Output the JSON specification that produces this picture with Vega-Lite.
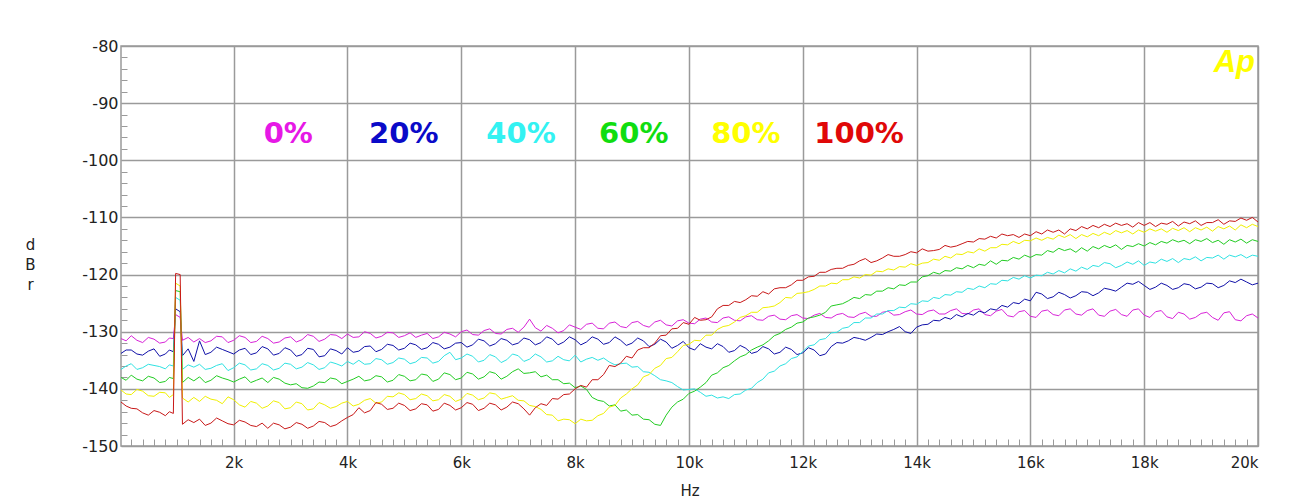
{
"$schema":"https://vega.github.io/schema/vega-lite/v6.json",
"width":1137,"height":400,
"autosize":{"type":"none"},
"padding":{"left":121,"top":46,"right":39,"bottom":57},
"background":"white",
"config":{"view":{"stroke":"#9a9a9a","strokeWidth":1.5}},
"layer":[
{"data":{"values":[
{"f":20,"p0":-131.2,"p20":-133.8,"p40":-136.6,"p60":-138.0,"p80":-140.2,"p100":-142.3},
{"f":110,"p0":-131.6,"p20":-133.2,"p40":-136.0,"p60":-138.5,"p80":-140.9,"p100":-143.0},
{"f":200,"p0":-130.7,"p20":-133.2,"p40":-135.6,"p60":-137.6,"p80":-141.0,"p100":-143.4},
{"f":300,"p0":-131.5,"p20":-133.9,"p40":-136.6,"p60":-138.3,"p80":-140.1,"p100":-143.5},
{"f":400,"p0":-131.9,"p20":-134.1,"p40":-136.3,"p60":-138.6,"p80":-140.4,"p100":-144.2},
{"f":500,"p0":-131.0,"p20":-133.4,"p40":-135.7,"p60":-137.8,"p80":-141.2,"p100":-144.6},
{"f":600,"p0":-131.3,"p20":-133.0,"p40":-135.9,"p60":-138.1,"p80":-141.3,"p100":-143.8},
{"f":700,"p0":-132.0,"p20":-134.3,"p40":-136.1,"p60":-138.9,"p80":-140.6,"p100":-144.1},
{"f":800,"p0":-131.8,"p20":-133.9,"p40":-136.5,"p60":-138.7,"p80":-140.7,"p100":-144.7},
{"f":870,"p0":-131.1,"p20":-133.2,"p40":-135.8,"p60":-138.0,"p80":-141.5,"p100":-144.0},
{"f":940,"p0":-131.2,"p20":-133.5,"p40":-136.0,"p60":-138.2,"p80":-141.0,"p100":-144.3},
{"f":980,"p0":-127.0,"p20":-126.0,"p40":-124.0,"p60":-122.8,"p80":-121.5,"p100":-119.8},
{"f":1060,"p0":-127.5,"p20":-126.5,"p40":-124.5,"p60":-123.0,"p80":-122.0,"p100":-120.0},
{"f":1100,"p0":-131.5,"p20":-134.2,"p40":-136.6,"p60":-138.9,"p80":-141.6,"p100":-146.2},
{"f":1200,"p0":-131.0,"p20":-133.0,"p40":-135.8,"p60":-138.0,"p80":-142.3,"p100":-145.4},
{"f":1300,"p0":-131.8,"p20":-135.2,"p40":-136.2,"p60":-138.6,"p80":-141.5,"p100":-145.9},
{"f":1400,"p0":-131.2,"p20":-131.6,"p40":-135.7,"p60":-137.9,"p80":-142.2,"p100":-145.3},
{"f":1500,"p0":-131.9,"p20":-134.0,"p40":-136.6,"p60":-138.9,"p80":-141.3,"p100":-146.4},
{"f":1600,"p0":-131.6,"p20":-133.6,"p40":-136.4,"p60":-138.5,"p80":-141.8,"p100":-146.0},
{"f":1700,"p0":-130.8,"p20":-132.7,"p40":-135.9,"p60":-137.7,"p80":-142.0,"p100":-145.1},
{"f":1800,"p0":-130.9,"p20":-133.1,"p40":-135.6,"p60":-138.1,"p80":-142.6,"p100":-145.6},
{"f":1900,"p0":-131.9,"p20":-133.5,"p40":-136.8,"p60":-138.4,"p80":-141.4,"p100":-146.1},
{"f":2000,"p0":-131.5,"p20":-133.9,"p40":-136.3,"p60":-138.8,"p80":-141.9,"p100":-146.3},
{"f":2100,"p0":-130.7,"p20":-133.2,"p40":-135.5,"p60":-138.3,"p80":-142.8,"p100":-145.5},
{"f":2200,"p0":-131.0,"p20":-132.9,"p40":-135.8,"p60":-137.9,"p80":-143.2,"p100":-145.8},
{"f":2300,"p0":-131.9,"p20":-134.0,"p40":-136.7,"p60":-138.9,"p80":-142.2,"p100":-146.4},
{"f":2400,"p0":-131.7,"p20":-133.7,"p40":-136.5,"p60":-138.5,"p80":-142.5,"p100":-146.6},
{"f":2500,"p0":-130.8,"p20":-132.6,"p40":-135.6,"p60":-138.1,"p80":-143.4,"p100":-146.0},
{"f":2600,"p0":-131.2,"p20":-133.0,"p40":-135.9,"p60":-138.9,"p80":-143.0,"p100":-146.9},
{"f":2700,"p0":-132.0,"p20":-134.1,"p40":-136.7,"p60":-138.0,"p80":-142.1,"p100":-146.0},
{"f":2800,"p0":-131.8,"p20":-133.8,"p40":-136.4,"p60":-138.3,"p80":-142.4,"p100":-146.3},
{"f":2900,"p0":-131.1,"p20":-132.8,"p40":-135.5,"p60":-139.0,"p80":-143.5,"p100":-147.0},
{"f":3000,"p0":-130.9,"p20":-133.2,"p40":-135.7,"p60":-139.3,"p80":-143.3,"p100":-146.7},
{"f":3100,"p0":-131.8,"p20":-134.3,"p40":-136.5,"p60":-139.1,"p80":-142.3,"p100":-145.9},
{"f":3200,"p0":-131.4,"p20":-134.0,"p40":-136.2,"p60":-139.8,"p80":-142.6,"p100":-146.2},
{"f":3300,"p0":-130.5,"p20":-132.9,"p40":-135.4,"p60":-139.9,"p80":-143.7,"p100":-146.9},
{"f":3400,"p0":-130.8,"p20":-133.1,"p40":-135.8,"p60":-139.5,"p80":-143.5,"p100":-146.5},
{"f":3500,"p0":-131.7,"p20":-134.4,"p40":-136.6,"p60":-138.8,"p80":-142.4,"p100":-145.7},
{"f":3600,"p0":-131.3,"p20":-134.2,"p40":-136.3,"p60":-138.9,"p80":-142.8,"p100":-145.9},
{"f":3700,"p0":-130.5,"p20":-133.0,"p40":-135.3,"p60":-138.1,"p80":-143.4,"p100":-146.6},
{"f":3800,"p0":-130.6,"p20":-133.3,"p40":-135.6,"p60":-138.3,"p80":-143.1,"p100":-146.3},
{"f":3900,"p0":-131.2,"p20":-133.9,"p40":-136.0,"p60":-139.1,"p80":-142.5,"p100":-145.6},
{"f":4000,"p0":-130.4,"p20":-132.8,"p40":-135.2,"p60":-138.7,"p80":-142.2,"p100":-145.0},
{"f":4100,"p0":-131.0,"p20":-133.6,"p40":-135.7,"p60":-138.3,"p80":-143.0,"p100":-144.5},
{"f":4200,"p0":-130.9,"p20":-133.4,"p40":-135.0,"p60":-137.8,"p80":-142.7,"p100":-143.3},
{"f":4300,"p0":-130.0,"p20":-132.6,"p40":-135.7,"p60":-138.6,"p80":-142.0,"p100":-144.2},
{"f":4400,"p0":-130.3,"p20":-132.5,"p40":-135.6,"p60":-138.4,"p80":-141.7,"p100":-143.8},
{"f":4500,"p0":-131.1,"p20":-133.5,"p40":-134.7,"p60":-137.7,"p80":-142.5,"p100":-142.4},
{"f":4600,"p0":-130.8,"p20":-133.1,"p40":-134.9,"p60":-137.9,"p80":-142.3,"p100":-142.7},
{"f":4700,"p0":-130.1,"p20":-132.2,"p40":-135.7,"p60":-138.8,"p80":-141.3,"p100":-143.6},
{"f":4800,"p0":-130.2,"p20":-132.4,"p40":-135.4,"p60":-138.5,"p80":-141.4,"p100":-143.4},
{"f":4900,"p0":-131.0,"p20":-133.2,"p40":-134.6,"p60":-137.5,"p80":-140.7,"p100":-142.5},
{"f":5000,"p0":-130.7,"p20":-132.9,"p40":-134.8,"p60":-137.8,"p80":-141.0,"p100":-142.9},
{"f":5100,"p0":-130.2,"p20":-132.0,"p40":-135.6,"p60":-138.6,"p80":-141.9,"p100":-143.8},
{"f":5200,"p0":-131.0,"p20":-132.3,"p40":-135.3,"p60":-138.4,"p80":-141.7,"p100":-143.5},
{"f":5300,"p0":-130.6,"p20":-133.1,"p40":-134.5,"p60":-137.4,"p80":-140.9,"p100":-142.6},
{"f":5400,"p0":-130.3,"p20":-132.8,"p40":-134.6,"p60":-137.6,"p80":-141.2,"p100":-142.8},
{"f":5500,"p0":-131.2,"p20":-131.9,"p40":-135.5,"p60":-138.7,"p80":-142.1,"p100":-143.9},
{"f":5600,"p0":-130.9,"p20":-132.2,"p40":-135.2,"p60":-138.3,"p80":-141.9,"p100":-143.6},
{"f":5700,"p0":-130.1,"p20":-133.0,"p40":-134.2,"p60":-137.2,"p80":-141.0,"p100":-142.5},
{"f":5800,"p0":-130.4,"p20":-132.7,"p40":-133.6,"p60":-137.5,"p80":-141.3,"p100":-142.9},
{"f":5900,"p0":-130.9,"p20":-132.0,"p40":-134.9,"p60":-138.4,"p80":-142.2,"p100":-143.7},
{"f":6000,"p0":-130.0,"p20":-131.9,"p40":-134.6,"p60":-138.1,"p80":-141.8,"p100":-143.3},
{"f":6100,"p0":-129.7,"p20":-132.7,"p40":-133.9,"p60":-137.1,"p80":-140.8,"p100":-142.4},
{"f":6200,"p0":-130.5,"p20":-132.3,"p40":-134.3,"p60":-137.4,"p80":-141.1,"p100":-142.7},
{"f":6300,"p0":-130.6,"p20":-131.3,"p40":-135.3,"p60":-138.3,"p80":-141.9,"p100":-143.8},
{"f":6400,"p0":-129.8,"p20":-131.6,"p40":-135.0,"p60":-137.9,"p80":-141.6,"p100":-143.4},
{"f":6500,"p0":-129.5,"p20":-132.5,"p40":-134.0,"p60":-137.0,"p80":-140.7,"p100":-142.5},
{"f":6600,"p0":-130.3,"p20":-132.1,"p40":-134.4,"p60":-137.3,"p80":-140.9,"p100":-142.8},
{"f":6700,"p0":-130.4,"p20":-131.2,"p40":-135.4,"p60":-138.3,"p80":-141.8,"p100":-143.7},
{"f":6800,"p0":-129.6,"p20":-131.5,"p40":-134.9,"p60":-137.8,"p80":-141.5,"p100":-143.2},
{"f":6900,"p0":-129.4,"p20":-132.3,"p40":-133.9,"p60":-137.0,"p80":-141.2,"p100":-142.3},
{"f":7000,"p0":-130.1,"p20":-132.0,"p40":-134.2,"p60":-136.5,"p80":-142.0,"p100":-142.6},
{"f":7100,"p0":-129.2,"p20":-131.1,"p40":-135.2,"p60":-137.3,"p80":-142.1,"p100":-143.5},
{"f":7200,"p0":-127.8,"p20":-131.4,"p40":-134.8,"p60":-137.2,"p80":-142.9,"p100":-144.6},
{"f":7300,"p0":-129.3,"p20":-132.3,"p40":-133.9,"p60":-137.0,"p80":-143.1,"p100":-143.3},
{"f":7400,"p0":-129.9,"p20":-131.9,"p40":-134.4,"p60":-137.9,"p80":-143.6,"p100":-142.6},
{"f":7500,"p0":-128.9,"p20":-130.9,"p40":-135.3,"p60":-137.6,"p80":-144.5,"p100":-142.9},
{"f":7600,"p0":-129.4,"p20":-131.3,"p40":-135.1,"p60":-138.4,"p80":-144.6,"p100":-141.7},
{"f":7700,"p0":-130.2,"p20":-132.3,"p40":-134.3,"p60":-138.4,"p80":-145.6,"p100":-141.8},
{"f":7800,"p0":-129.8,"p20":-131.8,"p40":-134.9,"p60":-139.1,"p80":-145.3,"p100":-141.0},
{"f":7900,"p0":-128.8,"p20":-130.9,"p40":-135.1,"p60":-139.0,"p80":-145.4,"p100":-140.9},
{"f":8000,"p0":-129.2,"p20":-131.4,"p40":-134.1,"p60":-139.8,"p80":-146.1,"p100":-140.0},
{"f":8100,"p0":-129.6,"p20":-132.3,"p40":-135.3,"p60":-139.5,"p80":-145.3,"p100":-139.4},
{"f":8200,"p0":-128.7,"p20":-131.8,"p40":-134.8,"p60":-140.1,"p80":-145.6,"p100":-139.7},
{"f":8300,"p0":-128.5,"p20":-130.9,"p40":-134.5,"p60":-141.5,"p80":-145.5,"p100":-138.4},
{"f":8400,"p0":-129.4,"p20":-131.3,"p40":-135.0,"p60":-142.0,"p80":-144.7,"p100":-138.4},
{"f":8500,"p0":-129.5,"p20":-132.2,"p40":-134.6,"p60":-142.2,"p80":-144.3,"p100":-137.5},
{"f":8600,"p0":-128.5,"p20":-131.9,"p40":-135.3,"p60":-143.0,"p80":-143.2,"p100":-135.9},
{"f":8700,"p0":-128.3,"p20":-130.9,"p40":-135.8,"p60":-142.8,"p80":-142.9,"p100":-136.1},
{"f":8800,"p0":-129.1,"p20":-131.5,"p40":-135.6,"p60":-143.9,"p80":-141.6,"p100":-135.5},
{"f":8900,"p0":-129.3,"p20":-132.4,"p40":-135.5,"p60":-143.7,"p80":-140.9,"p100":-134.3},
{"f":9000,"p0":-128.4,"p20":-132.0,"p40":-136.2,"p60":-144.6,"p80":-140.0,"p100":-134.6},
{"f":9100,"p0":-128.2,"p20":-131.1,"p40":-136.1,"p60":-144.5,"p80":-139.3,"p100":-133.2},
{"f":9200,"p0":-128.9,"p20":-131.6,"p40":-137.0,"p60":-145.3,"p80":-137.9,"p100":-132.8},
{"f":9300,"p0":-129.2,"p20":-132.6,"p40":-137.1,"p60":-145.4,"p80":-137.5,"p100":-132.8},
{"f":9400,"p0":-128.3,"p20":-132.2,"p40":-137.7,"p60":-146.2,"p80":-136.4,"p100":-132.0},
{"f":9500,"p0":-128.0,"p20":-131.3,"p40":-138.4,"p60":-146.4,"p80":-135.9,"p100":-130.7},
{"f":9600,"p0":-128.8,"p20":-131.8,"p40":-138.6,"p60":-144.6,"p80":-134.7,"p100":-130.6},
{"f":9700,"p0":-129.0,"p20":-132.9,"p40":-138.9,"p60":-143.2,"p80":-134.5,"p100":-129.5},
{"f":9800,"p0":-128.1,"p20":-132.4,"p40":-139.6,"p60":-142.3,"p80":-133.5,"p100":-129.4},
{"f":9900,"p0":-127.9,"p20":-131.7,"p40":-140.2,"p60":-141.8,"p80":-132.4,"p100":-128.4},
{"f":10000,"p0":-128.5,"p20":-132.8,"p40":-140.1,"p60":-140.8,"p80":-132.2,"p100":-128.7},
{"f":10100,"p0":-128.6,"p20":-133.2,"p40":-140.0,"p60":-140.4,"p80":-131.5,"p100":-127.5},
{"f":10200,"p0":-127.8,"p20":-132.1,"p40":-140.6,"p60":-139.7,"p80":-131.6,"p100":-128.0},
{"f":10300,"p0":-127.6,"p20":-132.7,"p40":-141.3,"p60":-138.9,"p80":-130.6,"p100":-127.9},
{"f":10400,"p0":-128.3,"p20":-133.0,"p40":-141.1,"p60":-137.6,"p80":-130.6,"p100":-127.4},
{"f":10500,"p0":-128.4,"p20":-132.1,"p40":-141.6,"p60":-137.2,"p80":-129.6,"p100":-126.0},
{"f":10600,"p0":-127.6,"p20":-132.6,"p40":-141.4,"p60":-136.3,"p80":-129.1,"p100":-125.4},
{"f":10700,"p0":-127.4,"p20":-133.6,"p40":-141.7,"p60":-135.9,"p80":-128.9,"p100":-125.4},
{"f":10800,"p0":-128.0,"p20":-133.3,"p40":-141.0,"p60":-135.1,"p80":-128.3,"p100":-124.7},
{"f":10900,"p0":-128.1,"p20":-132.4,"p40":-140.9,"p60":-134.4,"p80":-127.5,"p100":-124.9},
{"f":11000,"p0":-127.4,"p20":-132.9,"p40":-140.2,"p60":-134.0,"p80":-127.2,"p100":-124.4},
{"f":11100,"p0":-127.2,"p20":-133.8,"p40":-139.9,"p60":-133.2,"p80":-126.6,"p100":-123.7},
{"f":11200,"p0":-127.9,"p20":-133.5,"p40":-138.9,"p60":-132.7,"p80":-126.6,"p100":-123.8},
{"f":11300,"p0":-128.0,"p20":-132.6,"p40":-138.3,"p60":-132.3,"p80":-125.8,"p100":-123.0},
{"f":11400,"p0":-127.3,"p20":-133.0,"p40":-137.2,"p60":-131.6,"p80":-125.7,"p100":-123.4},
{"f":11500,"p0":-127.1,"p20":-133.9,"p40":-136.9,"p60":-130.7,"p80":-125.5,"p100":-122.5},
{"f":11600,"p0":-127.8,"p20":-133.6,"p40":-136.0,"p60":-130.3,"p80":-124.9,"p100":-122.3},
{"f":11700,"p0":-127.9,"p20":-132.7,"p40":-135.6,"p60":-129.6,"p80":-124.0,"p100":-122.3},
{"f":11800,"p0":-127.2,"p20":-133.1,"p40":-134.7,"p60":-129.2,"p80":-124.1,"p100":-121.8},
{"f":11900,"p0":-127.0,"p20":-134.0,"p40":-134.4,"p60":-128.5,"p80":-123.3,"p100":-121.0},
{"f":12000,"p0":-127.6,"p20":-133.7,"p40":-133.5,"p60":-128.3,"p80":-123.2,"p100":-121.0},
{"f":12100,"p0":-127.7,"p20":-132.8,"p40":-132.5,"p60":-127.6,"p80":-123.0,"p100":-120.4},
{"f":12200,"p0":-127.1,"p20":-133.2,"p40":-132.3,"p60":-127.4,"p80":-122.6,"p100":-120.3},
{"f":12300,"p0":-126.8,"p20":-134.2,"p40":-131.4,"p60":-127.1,"p80":-122.0,"p100":-119.6},
{"f":12400,"p0":-127.5,"p20":-133.9,"p40":-131.2,"p60":-126.6,"p80":-122.0,"p100":-119.6},
{"f":12500,"p0":-127.6,"p20":-132.6,"p40":-130.2,"p60":-125.5,"p80":-121.5,"p100":-119.1},
{"f":12600,"p0":-127.0,"p20":-131.9,"p40":-130.1,"p60":-125.3,"p80":-121.6,"p100":-118.9},
{"f":12700,"p0":-126.8,"p20":-132.0,"p40":-129.4,"p60":-125.1,"p80":-120.9,"p100":-118.9},
{"f":12800,"p0":-127.4,"p20":-131.6,"p40":-129.2,"p60":-124.6,"p80":-120.9,"p100":-118.4},
{"f":12900,"p0":-127.5,"p20":-131.0,"p40":-128.4,"p60":-124.0,"p80":-120.4,"p100":-118.2},
{"f":13000,"p0":-126.9,"p20":-131.2,"p40":-128.4,"p60":-124.2,"p80":-120.6,"p100":-117.6},
{"f":13100,"p0":-126.6,"p20":-131.5,"p40":-127.6,"p60":-123.5,"p80":-120.0,"p100":-117.2},
{"f":13200,"p0":-127.3,"p20":-131.0,"p40":-127.6,"p60":-123.6,"p80":-120.1,"p100":-117.9},
{"f":13300,"p0":-127.3,"p20":-130.4,"p40":-126.9,"p60":-122.9,"p80":-119.4,"p100":-117.6},
{"f":13400,"p0":-126.6,"p20":-130.5,"p40":-126.9,"p60":-122.9,"p80":-119.5,"p100":-117.1},
{"f":13500,"p0":-126.4,"p20":-130.0,"p40":-126.3,"p60":-122.3,"p80":-119.0,"p100":-116.5},
{"f":13600,"p0":-127.1,"p20":-129.6,"p40":-126.3,"p60":-122.5,"p80":-119.2,"p100":-116.8},
{"f":13700,"p0":-127.0,"p20":-129.1,"p40":-125.7,"p60":-121.8,"p80":-118.6,"p100":-116.8},
{"f":13800,"p0":-126.5,"p20":-130.0,"p40":-125.8,"p60":-121.9,"p80":-118.7,"p100":-116.5},
{"f":13900,"p0":-126.2,"p20":-130.3,"p40":-125.1,"p60":-121.3,"p80":-118.1,"p100":-116.0},
{"f":14000,"p0":-126.9,"p20":-129.2,"p40":-125.2,"p60":-121.3,"p80":-118.4,"p100":-116.2},
{"f":14100,"p0":-127.0,"p20":-128.8,"p40":-124.6,"p60":-120.4,"p80":-118.0,"p100":-115.5},
{"f":14200,"p0":-126.4,"p20":-128.7,"p40":-124.7,"p60":-120.2,"p80":-117.9,"p100":-115.9},
{"f":14300,"p0":-126.2,"p20":-128.0,"p40":-124.0,"p60":-119.6,"p80":-117.3,"p100":-115.8},
{"f":14400,"p0":-126.9,"p20":-128.1,"p40":-124.2,"p60":-119.9,"p80":-117.5,"p100":-115.6},
{"f":14500,"p0":-126.9,"p20":-127.5,"p40":-123.5,"p60":-119.3,"p80":-116.8,"p100":-114.9},
{"f":14600,"p0":-126.3,"p20":-127.8,"p40":-123.6,"p60":-119.4,"p80":-117.1,"p100":-115.2},
{"f":14700,"p0":-126.0,"p20":-127.0,"p40":-123.0,"p60":-118.8,"p80":-116.4,"p100":-115.0},
{"f":14800,"p0":-126.8,"p20":-127.4,"p40":-123.1,"p60":-119.0,"p80":-116.5,"p100":-114.6},
{"f":14900,"p0":-126.9,"p20":-126.8,"p40":-122.4,"p60":-118.4,"p80":-116.0,"p100":-114.2},
{"f":15000,"p0":-126.2,"p20":-127.1,"p40":-122.6,"p60":-118.8,"p80":-116.2,"p100":-114.3},
{"f":15100,"p0":-126.0,"p20":-126.4,"p40":-122.0,"p60":-118.2,"p80":-115.5,"p100":-113.7},
{"f":15200,"p0":-127.0,"p20":-126.7,"p40":-122.3,"p60":-118.4,"p80":-115.9,"p100":-113.8},
{"f":15300,"p0":-127.2,"p20":-126.0,"p40":-121.6,"p60":-117.6,"p80":-115.3,"p100":-113.3},
{"f":15400,"p0":-126.4,"p20":-126.2,"p40":-121.7,"p60":-118.2,"p80":-115.3,"p100":-113.6},
{"f":15500,"p0":-126.1,"p20":-125.4,"p40":-121.0,"p60":-117.5,"p80":-114.7,"p100":-112.9},
{"f":15600,"p0":-127.2,"p20":-125.7,"p40":-121.1,"p60":-117.6,"p80":-114.8,"p100":-113.2},
{"f":15700,"p0":-127.4,"p20":-124.9,"p40":-120.5,"p60":-117.0,"p80":-114.2,"p100":-113.0},
{"f":15800,"p0":-126.5,"p20":-125.1,"p40":-120.8,"p60":-117.3,"p80":-114.6,"p100":-113.5},
{"f":15900,"p0":-126.3,"p20":-124.3,"p40":-120.2,"p60":-116.6,"p80":-114.0,"p100":-112.9},
{"f":16000,"p0":-127.3,"p20":-124.6,"p40":-120.6,"p60":-117.0,"p80":-114.1,"p100":-113.2},
{"f":16100,"p0":-127.5,"p20":-123.1,"p40":-120.1,"p60":-116.5,"p80":-113.6,"p100":-112.5},
{"f":16200,"p0":-126.4,"p20":-123.4,"p40":-120.2,"p60":-116.6,"p80":-114.0,"p100":-112.9},
{"f":16300,"p0":-126.2,"p20":-124.2,"p40":-119.6,"p60":-115.8,"p80":-113.5,"p100":-112.2},
{"f":16400,"p0":-127.0,"p20":-123.9,"p40":-119.9,"p60":-116.1,"p80":-113.8,"p100":-112.6},
{"f":16500,"p0":-127.2,"p20":-123.1,"p40":-119.3,"p60":-115.4,"p80":-113.1,"p100":-112.2},
{"f":16600,"p0":-126.2,"p20":-123.5,"p40":-119.7,"p60":-115.8,"p80":-113.5,"p100":-112.9},
{"f":16700,"p0":-126.0,"p20":-124.1,"p40":-119.0,"p60":-115.5,"p80":-113.0,"p100":-112.0},
{"f":16800,"p0":-126.9,"p20":-123.7,"p40":-119.4,"p60":-116.1,"p80":-113.7,"p100":-112.3},
{"f":16900,"p0":-127.1,"p20":-123.0,"p40":-118.7,"p60":-115.3,"p80":-113.0,"p100":-111.6},
{"f":17000,"p0":-126.3,"p20":-123.1,"p40":-119.1,"p60":-115.9,"p80":-113.4,"p100":-112.0},
{"f":17100,"p0":-126.0,"p20":-123.7,"p40":-118.4,"p60":-115.1,"p80":-112.8,"p100":-111.4},
{"f":17200,"p0":-127.1,"p20":-123.2,"p40":-118.6,"p60":-115.5,"p80":-113.2,"p100":-111.8},
{"f":17300,"p0":-127.3,"p20":-122.4,"p40":-117.9,"p60":-114.9,"p80":-112.6,"p100":-111.2},
{"f":17400,"p0":-126.4,"p20":-122.6,"p40":-118.1,"p60":-115.3,"p80":-113.0,"p100":-111.6},
{"f":17500,"p0":-126.1,"p20":-122.9,"p40":-118.8,"p60":-114.8,"p80":-112.3,"p100":-111.0},
{"f":17600,"p0":-127.0,"p20":-122.2,"p40":-118.4,"p60":-115.6,"p80":-112.7,"p100":-111.4},
{"f":17700,"p0":-127.3,"p20":-121.5,"p40":-117.8,"p60":-114.9,"p80":-112.3,"p100":-111.1},
{"f":17800,"p0":-126.2,"p20":-121.7,"p40":-118.2,"p60":-115.1,"p80":-112.9,"p100":-111.7},
{"f":17900,"p0":-126.0,"p20":-121.2,"p40":-117.6,"p60":-114.6,"p80":-112.2,"p100":-110.9},
{"f":18000,"p0":-127.1,"p20":-121.9,"p40":-118.4,"p60":-115.0,"p80":-112.6,"p100":-111.4},
{"f":18100,"p0":-127.5,"p20":-122.6,"p40":-117.8,"p60":-114.4,"p80":-112.0,"p100":-110.9},
{"f":18200,"p0":-126.5,"p20":-122.2,"p40":-118.0,"p60":-114.8,"p80":-112.4,"p100":-111.6},
{"f":18300,"p0":-126.3,"p20":-121.5,"p40":-117.3,"p60":-114.2,"p80":-112.0,"p100":-111.0},
{"f":18400,"p0":-127.4,"p20":-121.9,"p40":-117.7,"p60":-114.5,"p80":-112.6,"p100":-111.2},
{"f":18500,"p0":-127.7,"p20":-122.6,"p40":-117.2,"p60":-113.9,"p80":-111.9,"p100":-110.7},
{"f":18600,"p0":-126.6,"p20":-122.3,"p40":-117.9,"p60":-114.3,"p80":-112.3,"p100":-111.5},
{"f":18700,"p0":-126.9,"p20":-121.6,"p40":-117.2,"p60":-114.0,"p80":-111.8,"p100":-110.8},
{"f":18800,"p0":-127.8,"p20":-121.8,"p40":-117.4,"p60":-114.6,"p80":-112.5,"p100":-111.1},
{"f":18900,"p0":-127.5,"p20":-122.5,"p40":-116.9,"p60":-113.9,"p80":-111.8,"p100":-110.6},
{"f":19000,"p0":-126.8,"p20":-122.2,"p40":-117.6,"p60":-114.2,"p80":-112.2,"p100":-111.4},
{"f":19100,"p0":-126.6,"p20":-121.5,"p40":-117.0,"p60":-113.7,"p80":-111.7,"p100":-110.9},
{"f":19200,"p0":-127.5,"p20":-121.6,"p40":-117.1,"p60":-114.4,"p80":-112.4,"p100":-110.9},
{"f":19300,"p0":-128.0,"p20":-122.3,"p40":-116.6,"p60":-114.0,"p80":-111.6,"p100":-110.4},
{"f":19400,"p0":-126.7,"p20":-121.9,"p40":-117.3,"p60":-114.7,"p80":-112.0,"p100":-111.2},
{"f":19500,"p0":-126.5,"p20":-121.1,"p40":-116.6,"p60":-113.9,"p80":-111.5,"p100":-110.6},
{"f":19600,"p0":-127.9,"p20":-121.4,"p40":-116.9,"p60":-114.3,"p80":-112.2,"p100":-110.7},
{"f":19700,"p0":-128.1,"p20":-120.8,"p40":-116.5,"p60":-113.8,"p80":-111.3,"p100":-110.1},
{"f":19800,"p0":-127.2,"p20":-121.3,"p40":-117.1,"p60":-114.5,"p80":-111.8,"p100":-110.5},
{"f":19900,"p0":-126.9,"p20":-121.8,"p40":-116.6,"p60":-113.9,"p80":-111.2,"p100":-110.0},
{"f":20000,"p0":-127.6,"p20":-121.5,"p40":-116.8,"p60":-114.2,"p80":-111.6,"p100":-110.8}
]},
"transform":[{"fold":["p0","p20","p40","p60","p80","p100"],"as":["s","v"]}],
"mark":{"type":"line","strokeWidth":1,"clip":true},
"encoding":{
"x":{"field":"f","type":"quantitative","scale":{"domain":[20,20000],"nice":false,"zero":false},
"axis":{"title":"Hz","titleFont":"DejaVu Sans","titleFontSize":15,"titleFontWeight":"normal","titleColor":"#222222","titleY":44,"titleBaseline":"middle",
"tickCount":1000,
"values":[200,400,600,800,1000,1200,1400,1600,1800,2000,2200,2400,2600,2800,3000,3200,3400,3600,3800,4000,4200,4400,4600,4800,5000,5200,5400,5600,5800,6000,6200,6400,6600,6800,7000,7200,7400,7600,7800,8000,8200,8400,8600,8800,9000,9200,9400,9600,9800,10000,10200,10400,10600,10800,11000,11200,11400,11600,11800,12000,12200,12400,12600,12800,13000,13200,13400,13600,13800,14000,14200,14400,14600,14800,15000,15200,15400,15600,15800,16000,16200,16400,16600,16800,17000,17200,17400,17600,17800,18000,18200,18400,18600,18800,19000,19200,19400,19600,19800,20000],
"labelExpr":"datum.value % 2000 === 0 ? (datum.value/1000) + 'k' : ''",
"labelFont":"DejaVu Sans","labelFontSize":15,"labelColor":"#222222","labelPadding":16,"labelFlush":true,"labelOverlap":false,
"grid":true,"gridColor":"#9a9a9a","gridWidth":1.5,"gridOpacity":{"condition":{"test":"datum.value % 2000 === 0","value":1},"value":0},
"domain":false,"ticks":true,"tickSize":-7,"tickColor":"#9a9a9a","tickWidth":1}},
"y":{"field":"v","type":"quantitative","scale":{"domain":[-150,-80],"nice":false,"zero":false},
"axis":{"title":["d","B","r"],"titleAngle":0,"titleX":-91,"titleY":198,"titleAlign":"center","titleBaseline":"middle","titleLineHeight":20,"titleFont":"DejaVu Sans","titleFontSize":15,"titleFontWeight":"normal","titleColor":"#222222",
"tickCount":1000,
"values":[-150,-148,-146,-144,-142,-140,-138,-136,-134,-132,-130,-128,-126,-124,-122,-120,-118,-116,-114,-112,-110,-108,-106,-104,-102,-100,-98,-96,-94,-92,-90,-88,-86,-84,-82,-80],
"labelExpr":"datum.value % 10 === 0 ? '' + datum.value : ''",
"labelFont":"DejaVu Sans","labelFontSize":16,"labelColor":"#222222","labelPadding":9,"labelOverlap":false,
"grid":true,"gridColor":"#9a9a9a","gridWidth":1.5,"gridOpacity":{"condition":{"test":"datum.value % 10 === 0","value":1},"value":0},
"domain":false,"ticks":true,"tickSize":-6,"tickColor":"#9a9a9a","tickWidth":1}},
"color":{"field":"s","type":"nominal","scale":{"domain":["p0","p20","p40","p60","p80","p100"],"range":["#d822d8","#1010a8","#2ee2e2","#22cc22","#f0f000","#c81818"]},"legend":null}
}},
{"data":{"values":[
{"f":2960,"db":-97.05,"s":"p0","lab":"0%"},
{"f":4990,"db":-97.05,"s":"p20","lab":"20%"},
{"f":7050,"db":-97.05,"s":"p40","lab":"40%"},
{"f":9030,"db":-97.05,"s":"p60","lab":"60%"},
{"f":11000,"db":-97.05,"s":"p80","lab":"80%"},
{"f":12990,"db":-97.05,"s":"p100","lab":"100%"}
]},
"mark":{"type":"text","font":"DejaVu Sans","fontWeight":"bold","fontSize":29,"baseline":"alphabetic","align":"center"},
"encoding":{"x":{"field":"f","type":"quantitative"},"y":{"field":"db","type":"quantitative"},"text":{"field":"lab","type":"nominal"},
"color":{"field":"s","type":"nominal","scale":{"domain":["p0","p20","p40","p60","p80","p100"],"range":["#e618e6","#0a0ac8","#33f2f2","#10dd10","#ffff00","#e00808"]},"legend":null}}},
{"data":{"values":[{"f":19584,"db":-84.5,"lab":"Ap"}]},
"mark":{"type":"text","font":"Liberation Sans","fontWeight":"bold","fontStyle":"italic","fontSize":31,"baseline":"alphabetic","align":"center","color":"#ffff00"},
"encoding":{"x":{"field":"f","type":"quantitative"},"y":{"field":"db","type":"quantitative"},"text":{"field":"lab","type":"nominal"}}}
],
"resolve":{"scale":{"color":"independent"}}
}
